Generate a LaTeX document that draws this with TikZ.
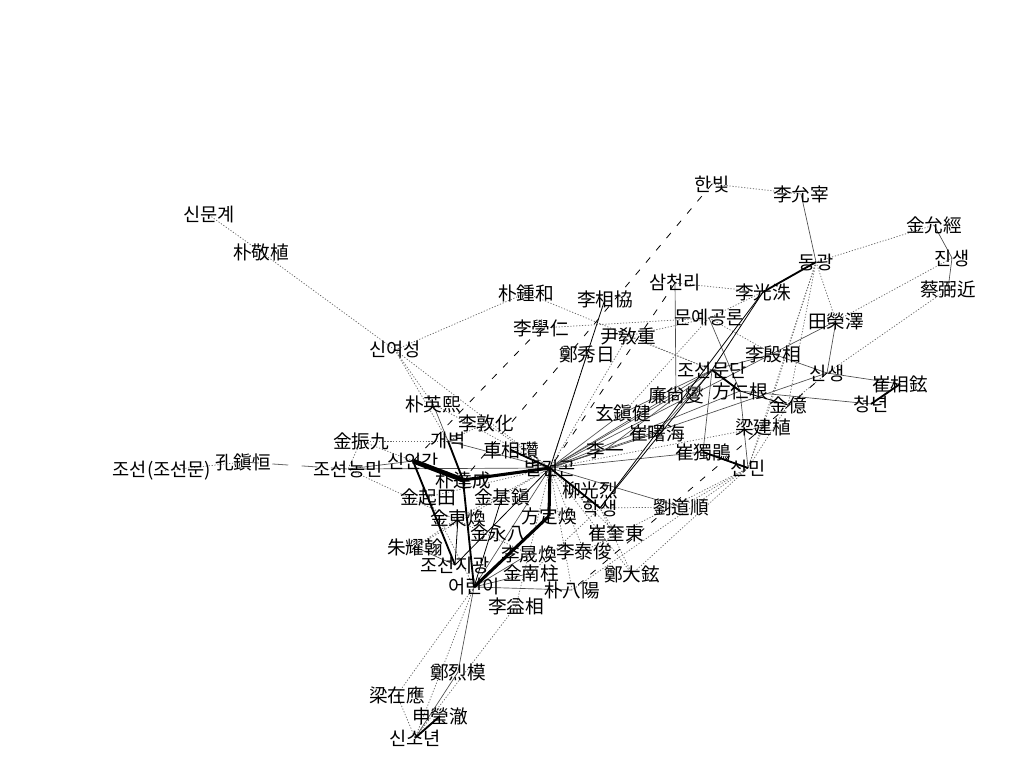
\documentclass[tikz,border=0pt]{standalone}
\usepackage{fontspec}
\setmainfont{Noto Sans CJK KR}
\usetikzlibrary{backgrounds}
\begin{document}
\begin{tikzpicture}[x=0.75pt,y=-0.75pt,
  lab/.style={inner sep=0pt, font=\fontsize{14}{15}\selectfont},
  heavy/.style={line width=3.6pt, black},
  thk/.style={line width=2.3pt, black},
  med/.style={line width=1.4pt, black},
  sol/.style={line width=0.6pt, black},
  gry/.style={line width=0.5pt, black!70},
  dot/.style={line width=0.55pt, black!60, dash pattern=on 0.9pt off 1.3pt},
  dsh/.style={line width=0.6pt, black, dash pattern=on 5pt off 7pt},
  ldsh/.style={line width=0.6pt, black!60, dash pattern=on 12pt off 10pt}]
\useasboundingbox (0,0) rectangle (1024,768);
% nodes
\node[lab] (hanbit) at (712,184) {한빛};
\node[lab] (yunjae) at (801,194) {李允宰};
\node[lab] (yungyeong) at (934,225) {金允經};
\node[lab] (jinsaeng) at (952,258) {진생};
\node[lab] (pilgeun) at (948,289) {蔡弼近};
\node[lab] (donggwang) at (816,262) {동광};
\node[lab] (gwangsu) at (763,292) {李光洙};
\node[lab] (samcheolli) at (675,283) {삼천리};
\node[lab] (munye) at (709,318) {문예공론};
\node[lab] (yeongtaek) at (836,321) {田榮澤};
\node[lab] (eunsang) at (773,354) {李殷相};
\node[lab] (sinsaeng) at (827,373) {신생};
\node[lab] (sanghyeon) at (900,384) {崔相鉉};
\node[lab] (cheongnyeon) at (871,404) {청년};
\node[lab] (mundan) at (712,370) {조선문단};
\node[lab] (ingeun) at (740,391) {方仁根};
\node[lab] (yeom) at (676,395) {廉尙燮};
\node[lab] (eok) at (788,405) {金億};
\node[lab] (geonsik) at (763,427) {梁建植};
\node[lab] (jingeon) at (623,413) {玄鎭健};
\node[lab] (seohae) at (657,433) {崔曙海};
\node[lab] (iil) at (605,450) {李一};
\node[lab] (dokgyeon) at (703,452) {崔獨鵑};
\node[lab] (sinmin) at (748,468) {신민};
\node[lab] (gwangnyeol) at (590,490) {柳光烈};
\node[lab] (haksaeng) at (600,508) {학생};
\node[lab] (dosun) at (681,507) {劉道順};
\node[lab] (gyudong) at (616,533) {崔奎東};
\node[lab] (taejun) at (584,551) {李泰俊};
\node[lab] (daehyeon) at (632,574) {鄭大鉉};
\node[lab] (palyang) at (572,590) {朴八陽};
\node[lab] (junghwan) at (549,516) {方定煥};
\node[lab] (gijin) at (502,497) {金基鎭};
\node[lab] (yeongpal) at (498,533) {金永八};
\node[lab] (seonghwan) at (529,554) {李晟煥};
\node[lab] (namju) at (531,573) {金南柱};
\node[lab] (iksang) at (516,606) {李益相};
\node[lab] (eorini) at (474,587) {어린이};
\node[lab] (jigwang) at (455,565) {조선지광};
\node[lab] (yohan) at (415,547) {朱耀翰};
\node[lab] (donghwan) at (458,518) {金東煥};
\node[lab] (gijeon) at (428,497) {金起田};
\node[lab] (dalseong) at (463,480) {朴達成};
\node[lab] (sininkan) at (413,461) {신인간};
\node[lab] (gaebyeok) at (448,441) {개벽};
\node[lab] (sangchan) at (511,450) {車相瓚};
\node[lab] (donhwa) at (486,423) {李敦化};
\node[lab] (yeonghui) at (433,404) {朴英熙};
\node[lab] (jingu) at (361,441) {金振九};
\node[lab] (nongmin) at (348,469) {조선농민};
\node[lab] (jinhang) at (243,462) {孔鎭恒};
\node[lab] (joseon) at (162,471) {조선(조선문)};
\node[lab] (sinyeoseong) at (395,350) {신여성};
\node[lab] (gyeongsik) at (261,252) {朴敬植};
\node[lab] (sinmungye) at (209,215) {신문계};
\node[lab] (jonghwa) at (526,293) {朴鍾和};
\node[lab] (sanghyeop) at (605,299) {李相協};
\node[lab] (hagin) at (541,328) {李學仁};
\node[lab] (gyojung) at (628,336) {尹敎重};
\node[lab] (suil) at (587,354) {鄭秀日};
\node[lab] (byeol) at (550,468) {별건곤};
\node[lab] (yeolmo) at (458,672) {鄭烈模};
\node[lab] (jaeeung) at (397,695) {梁在應};
\node[lab] (yeongcheol) at (440,716) {申瑩澈};
\node[lab] (sinsonyeon) at (415,738) {신소년};
% edges
\begin{scope}[on background layer]
% dotted
\foreach \a/\b in {hanbit/yunjae, yungyeong/donggwang, jinsaeng/yeongtaek, pilgeun/sinsaeng,
  donggwang/yeongtaek, donggwang/eok, donggwang/sinmin, donggwang/geonsik,
  samcheolli/gwangsu, munye/gwangsu, munye/eunsang, munye/jingeon, munye/gyojung,
  hagin/munye, jonghwa/mundan, gyojung/mundan, sinyeoseong/jonghwa,
  sinmungye/gyeongsik, gyeongsik/sinyeoseong, sinyeoseong/gaebyeok, sinyeoseong/yeonghui,
  sinyeoseong/byeol, jingu/gaebyeok, jingu/nongmin, joseon/jinhang, donhwa/byeol,
  donhwa/gaebyeok, yeonghui/byeol, gijeon/byeol, donghwan/byeol, yohan/byeol,
  taejun/byeol, gyudong/byeol, daehyeon/haksaeng, gyudong/haksaeng, dosun/haksaeng,
  sinmin/dosun, sinmin/daehyeon, sinmin/palyang, geonsik/sinmin, eok/sinmin,
  geonsik/byeol, palyang/byeol, iksang/byeol, suil/byeol, gyojung/byeol,
  jaeeung/eorini, jaeeung/sinsonyeon, iksang/sinsonyeon, eorini/sinsonyeon,
  seonghwan/nongmin, namju/haksaeng, taejun/sinmin, daehyeon/byeol, yohan/donghwan,
  gijeon/eorini, sininkan/jingu, eok/sinsaeng}
  \draw[dot] (\a.center) -- (\b.center);
% thin gray solid
\foreach \a/\b in {yunjae/donggwang, jinsaeng/pilgeun, yungyeong/jinsaeng,
  yeongtaek/sinsaeng, yeongtaek/byeol, eunsang/sinsaeng, sinsaeng/sanghyeon,
  ingeun/cheongnyeon, ingeun/sinmin, samcheolli/yeom, munye/ingeun,
  byeol/mundan, byeol/jingeon, byeol/seohae, byeol/iil, byeol/yeom, byeol/dokgyeon,
  byeol/sinsaeng, byeol/dosun, mundan/dokgyeon, mundan/iil, mundan/seohae,
  mundan/jingeon, sininkan/nongmin, nongmin/byeol, gaebyeok/byeol, yeonghui/gaebyeok,
  eorini/palyang, eorini/namju, eorini/seonghwan, eorini/byeol, yeolmo/sinsonyeon,
  eorini/yeolmo, yohan/jigwang, byeol/ingeun, eunsang/mundan, sininkan/gijeon}
  \draw[gry] (\a.center) -- (\b.center);
% black solid
\foreach \a/\b in {gwangsu/mundan, ingeun/eok, sanghyeop/byeol, donghwan/jigwang,
  gwangsu/haksaeng, mundan/haksaeng, eorini/gijin, jigwang/byeol}
  \draw[sol] (\a.center) -- (\b.center);
% dashed
\draw[dsh] (hanbit.center) -- (dalseong.center);
\draw[dsh] (hagin.center) -- (sininkan.center);
\draw[dsh] (samcheolli.center) -- (byeol.center);
\draw[dsh] (sinsaeng.center) -- (palyang.center);
\draw[ldsh] (jinhang.center) -- (nongmin.center);
% medium
\foreach \a/\b in {sangchan/byeol, donggwang/gwangsu, dokgyeon/sinmin, sanghyeon/cheongnyeon,
  mundan/ingeun, dalseong/eorini, gaebyeok/dalseong, sininkan/jigwang, byeol/haksaeng,
  yeongcheol/sinsonyeon}
  \draw[med] (\a.center) -- (\b.center);
% thick
\draw[thk] (dalseong.center) -- (byeol.center);
\draw[thk] (byeol.center) -- (junghwan.center);
\draw[thk] (junghwan.center) -- (eorini.center);
\draw[heavy] (sininkan.center) -- (dalseong.center);
\end{scope}
\end{tikzpicture}
\end{document}
